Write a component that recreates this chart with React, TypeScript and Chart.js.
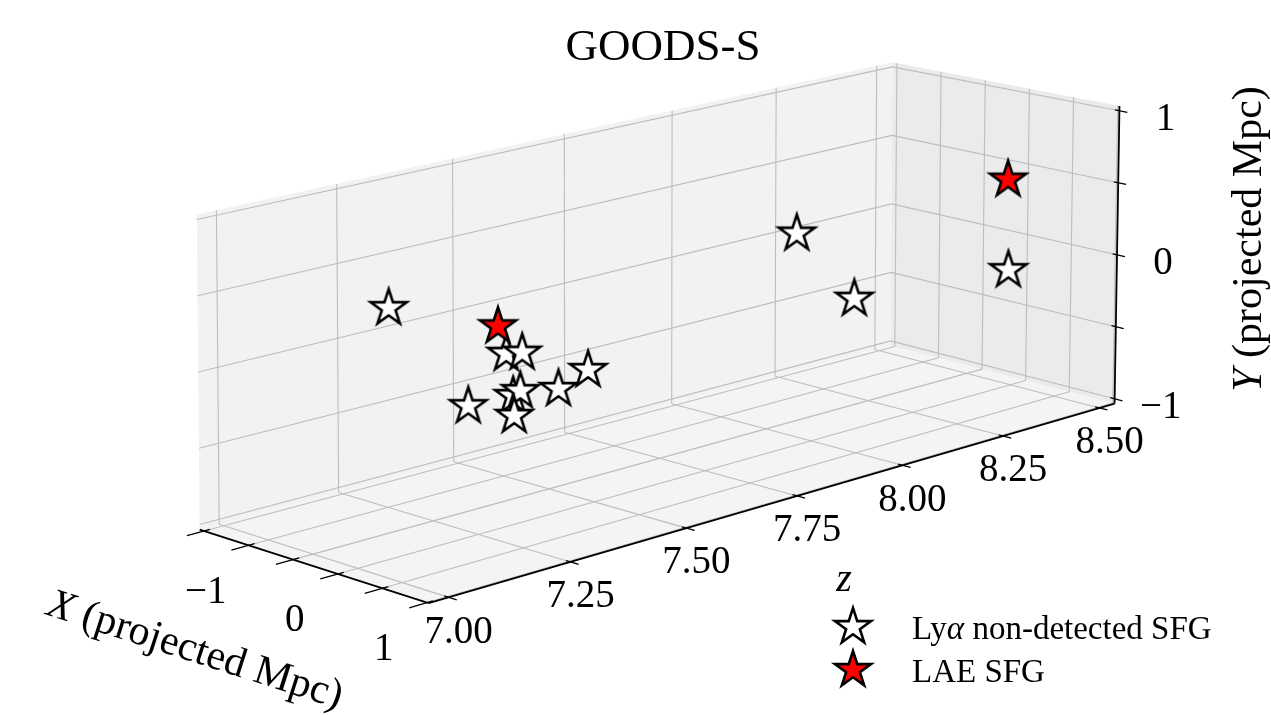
import React, { useEffect, useRef } from "react";
import { Chart, registerables } from "chart.js";

Chart.register(...registerables);

const W = 1271;
const H = 715;

// ---------- text ----------
const TITLE = "GOODS-S";
const SERIES_NONDET = "non-detected SFG";
const SERIES_LAE = "LAE SFG";

// ---------- axes ----------
const X_LIMITS = [-1.55, 1.02];
const Y_LIMITS = [-1.033, 1.033];
const Z_LIMITS = [6.96, 8.54];
const X_TICKS = [-1.5, -1, -0.5, 0, 0.5, 1];
const X_TICK_LABELS = ["", "\u22121", "", "0", "", "1"];
const Y_TICKS = [-1, -0.5, 0, 0.5, 1];
const Y_TICK_LABELS = ["\u22121", "", "0", "", "1"];
const Z_TICKS = [7.0, 7.25, 7.5, 7.75, 8.0, 8.25, 8.5];
const Z_TICK_LABELS = ["7.00", "7.25", "7.50", "7.75", "8.00", "8.25", "8.50"];

// ---------- data: Lyα non-detected SFG ----------
const NONDET_X = [-0.8, -0.3, 0.6, 0.9, -0.5, 0.1, 0.4, -0.9, -1.2, -0.2, 0.7, 0.8];
const NONDET_Y = [0.346, 0.004, 0.26, 0.1, -0.35, -0.14, -0.196, -0.51, -0.53, 0.354, 0.078, 0.027];
const NONDET_Z = [7.213, 7.366, 7.224, 7.057, 7.421, 7.318, 7.247, 7.602, 7.731, 8.005, 7.948, 8.307];

// ---------- data: LAE SFG ----------
const LAE_X = [0.2, 0.5];
const LAE_Y = [0.35, 0.567];
const LAE_Z = [7.25, 8.372];

// ---------- view geometry: screen position of the 8 box corners ----------
// BOX[ix][iy][iz] with i = 0 at the lower limit, 1 at the upper limit
const BOX: number[][][][] = [
  [
    [[192, 535], [895, 345]],
    [[189, 210], [897, 53]],
  ],
  [
    [[425, 611], [1123, 405]],
    [[429, 270], [1128, 98]],
  ],
];
// foreshortening along the receding z axis, for the far (X min) and near (X max) faces
const DEPTH_PERSPECTIVE = [0.12, 0.16];

function project(X: number, Y: number, Z: number): [number, number] {
  const tx = (X - X_LIMITS[0]) / (X_LIMITS[1] - X_LIMITS[0]);
  const ty = (Y - Y_LIMITS[0]) / (Y_LIMITS[1] - Y_LIMITS[0]);
  const s = (Z - Z_LIMITS[0]) / (Z_LIMITS[1] - Z_LIMITS[0]);
  let u = 0, v = 0;
  for (let i = 0; i < 2; i++) {
    const m = DEPTH_PERSPECTIVE[i];
    const tz = (s * (1 + m)) / (1 + m * s);
    for (let j = 0; j < 2; j++)
      for (let k = 0; k < 2; k++) {
        const w = (i ? tx : 1 - tx) * (j ? ty : 1 - ty) * (k ? tz : 1 - tz);
        u += w * BOX[i][j][k][0];
        v += w * BOX[i][j][k][1];
      }
  }
  return [u, v];
}

function makeStar(fill: string, R: number, lw: number): HTMLCanvasElement {
  const size = Math.ceil(2 * R + 2 * lw + 6);
  const c = document.createElement("canvas");
  c.width = size;
  c.height = size;
  const g = c.getContext("2d")!;
  const cx = size / 2, cy = size / 2;
  const r = R * 0.381966;
  g.beginPath();
  for (let i = 0; i < 10; i++) {
    const a = -Math.PI / 2 + (i * Math.PI) / 5;
    const rr = i % 2 === 0 ? R : r;
    g.lineTo(cx + rr * Math.cos(a), cy + rr * Math.sin(a));
  }
  g.closePath();
  g.fillStyle = fill;
  g.fill();
  g.lineJoin = "miter";
  g.lineWidth = lw;
  g.strokeStyle = "#000000";
  g.stroke();
  return c;
}

const SERIF = '"Liberation Serif", "Times New Roman", serif';

type Part = { t: string; italic?: boolean };

function richWidth(ctx: CanvasRenderingContext2D, parts: Part[], size: number) {
  let w = 0;
  for (const p of parts) {
    ctx.font = `${p.italic ? "italic " : ""}${size}px ${SERIF}`;
    w += ctx.measureText(p.t).width;
  }
  return w;
}

function drawRich(ctx: CanvasRenderingContext2D, parts: Part[], size: number, x: number, y: number) {
  let cx = x;
  ctx.textAlign = "left";
  for (const p of parts) {
    ctx.font = `${p.italic ? "italic " : ""}${size}px ${SERIF}`;
    ctx.fillText(p.t, cx, y);
    cx += ctx.measureText(p.t).width;
  }
}

export default function App() {
  const ref = useRef<HTMLCanvasElement>(null);

  useEffect(() => {
    const canvas = ref.current!;
    const whiteStar = makeStar("#ffffff", 19, 2.6);
    const redStar = makeStar("#ff0000", 19, 2.6);

    const toPts = (xs: number[], ys: number[], zs: number[]) =>
      xs.map((x, i) => {
        const [u, v] = project(x, ys[i], zs[i]);
        return { x: u, y: v };
      });

    const axes3d = {
      id: "axes3d",
      beforeDraw(chart: any) {
        const ctx = chart.ctx as CanvasRenderingContext2D;
        ctx.save();
        ctx.fillStyle = "#ffffff";
        ctx.fillRect(0, 0, chart.width, chart.height);
        ctx.restore();
      },
      beforeDatasetsDraw(chart: any) {
        const ctx = chart.ctx as CanvasRenderingContext2D;
        const xs = chart.scales.x;
        const ys = chart.scales.y;
        const P = (X: number, Y: number, Z: number): [number, number] => {
          const [u, v] = project(X, Y, Z);
          return [xs.getPixelForValue(u), ys.getPixelForValue(v)];
        };
        const [x0, x1] = X_LIMITS;
        const [y0, y1] = Y_LIMITS;
        const [z0, z1] = Z_LIMITS;

        const poly = (pts: [number, number][], fill: string) => {
          ctx.beginPath();
          pts.forEach(([a, b], i) => (i ? ctx.lineTo(a, b) : ctx.moveTo(a, b)));
          ctx.closePath();
          ctx.fillStyle = fill;
          ctx.fill();
        };
        const seg = (a: [number, number], b: [number, number], color: string, lw: number) => {
          ctx.beginPath();
          ctx.moveTo(a[0], a[1]);
          ctx.lineTo(b[0], b[1]);
          ctx.strokeStyle = color;
          ctx.lineWidth = lw;
          ctx.stroke();
        };

        ctx.save();
        // panes
        poly([P(x0, y0, z0), P(x0, y1, z0), P(x0, y1, z1), P(x0, y0, z1)], "#f2f2f2");
        poly([P(x0, y0, z0), P(x1, y0, z0), P(x1, y0, z1), P(x0, y0, z1)], "#f4f4f4");
        poly([P(x0, y0, z1), P(x1, y0, z1), P(x1, y1, z1), P(x0, y1, z1)], "#ebebeb");

        // grid
        const gc = "#bdbdbd";
        const glw = 1.1;
        Z_TICKS.forEach((z) => seg(P(x0, y0, z), P(x0, y1, z), gc, glw));
        Y_TICKS.forEach((y) => seg(P(x0, y, z0), P(x0, y, z1), gc, glw));
        Z_TICKS.forEach((z) => seg(P(x0, y0, z), P(x1, y0, z), gc, glw));
        X_TICKS.forEach((x) => seg(P(x, y0, z0), P(x, y0, z1), gc, glw));
        X_TICKS.forEach((x) => seg(P(x, y0, z1), P(x, y1, z1), gc, glw));
        Y_TICKS.forEach((y) => seg(P(x0, y, z1), P(x1, y, z1), gc, glw));

        // axis lines
        const ac = "#000000";
        seg(P(x0, y0, z0), P(x1, y0, z0), ac, 1.8);
        seg(P(x1, y0, z0), P(x1, y0, z1), ac, 1.8);
        seg(P(x1, y0, z1), P(x1, y1, z1), ac, 1.8);

        // ticks
        X_TICKS.forEach((x) => seg(P(x, y0, z0 - 0.035), P(x, y0, z0 + 0.012), ac, 1.3));
        Z_TICKS.forEach((z) => seg(P(x1 - 0.05, y0, z), P(x1 + 0.09, y0, z), ac, 1.3));
        Y_TICKS.forEach((y) => seg(P(x1 - 0.05, y, z1), P(x1 + 0.09, y, z1), ac, 1.3));

        // tick labels
        ctx.fillStyle = "#000000";
        ctx.textAlign = "center";
        ctx.textBaseline = "middle";
        ctx.font = `39px ${SERIF}`;
        Z_TICKS.forEach((z, i) => {
          const [a, b] = P(x1, y0, z);
          ctx.fillText(Z_TICK_LABELS[i], a + 10, b + 35);
        });
        X_TICKS.forEach((x, i) => {
          if (!X_TICK_LABELS[i]) return;
          const [a, b] = P(x, y0, z0);
          ctx.fillText(X_TICK_LABELS[i], a - 43, b + 47);
        });
        Y_TICKS.forEach((y, i) => {
          if (!Y_TICK_LABELS[i]) return;
          const [a, b] = P(x1, y, z1);
          ctx.fillText(Y_TICK_LABELS[i], a + 46, b + 9);
        });

        // axis labels
        const labelSize = 42;
        const xParts: Part[] = [{ t: "X", italic: true }, { t: " (projected Mpc)" }];
        const yParts: Part[] = [{ t: "Y", italic: true }, { t: " (projected Mpc)" }];
        const ax0 = P(x0, y0, z0);
        const ax1 = P(x1, y0, z0);
        const ang = Math.atan2(ax1[1] - ax0[1], ax1[0] - ax0[0]);
        ctx.save();
        ctx.translate(195, 651);
        ctx.rotate(ang);
        ctx.textBaseline = "middle";
        const xw = richWidth(ctx, xParts, labelSize);
        drawRich(ctx, xParts, labelSize, -xw / 2, 0);
        ctx.restore();

        ctx.save();
        ctx.translate(1250, 239);
        ctx.rotate(-Math.PI / 2);
        ctx.textBaseline = "middle";
        const yw = richWidth(ctx, yParts, labelSize);
        drawRich(ctx, yParts, labelSize, -yw / 2, 0);
        ctx.restore();

        ctx.textBaseline = "alphabetic";
        ctx.textAlign = "center";
        ctx.font = `italic 40px ${SERIF}`;
        ctx.fillText("z", 844, 591);

        // title
        ctx.font = `45px ${SERIF}`;
        ctx.fillText(TITLE, 663, 60);
        ctx.restore();
      },
      afterDatasetsDraw(chart: any) {
        const ctx = chart.ctx as CanvasRenderingContext2D;
        ctx.save();
        const items: { img: HTMLCanvasElement; parts: Part[]; y: number }[] = [
          { img: whiteStar, parts: [{ t: "Ly" }, { t: "\u03b1", italic: true }, { t: " " + SERIES_NONDET }], y: 627 },
          { img: redStar, parts: [{ t: SERIES_LAE }], y: 670 },
        ];
        ctx.fillStyle = "#000000";
        ctx.textBaseline = "alphabetic";
        items.forEach((it) => {
          ctx.drawImage(it.img, 853 - it.img.width / 2, it.y - it.img.height / 2);
          drawRich(ctx, it.parts, 33, 912, it.y + 12);
        });
        ctx.restore();
      },
    };

    const chart = new Chart(canvas, {
      type: "scatter",
      data: {
        datasets: [
          {
            label: "Ly\u03b1 " + SERIES_NONDET,
            data: toPts(NONDET_X, NONDET_Y, NONDET_Z),
            pointStyle: whiteStar as any,
            pointRadius: 10,
            order: 2,
          },
          {
            label: SERIES_LAE,
            data: toPts(LAE_X, LAE_Y, LAE_Z),
            pointStyle: redStar as any,
            pointRadius: 10,
            order: 1,
          },
        ],
      },
      options: {
        responsive: false,
        animation: false,
        devicePixelRatio: 1,
        events: [],
        layout: { padding: 0 },
        scales: {
          x: { type: "linear", min: 0, max: W, display: false },
          y: { type: "linear", min: 0, max: H, reverse: true, display: false },
        },
        plugins: {
          legend: { display: false },
          tooltip: { enabled: false },
          title: { display: false },
        },
      },
      plugins: [axes3d as any],
    });
    return () => chart.destroy();
  }, []);

  return (
    <div style={{ position: "fixed", left: 0, top: 0, width: W, height: H, background: "#ffffff" }}>
      <canvas ref={ref} width={W} height={H} style={{ display: "block", width: W, height: H }} />
    </div>
  );
}
